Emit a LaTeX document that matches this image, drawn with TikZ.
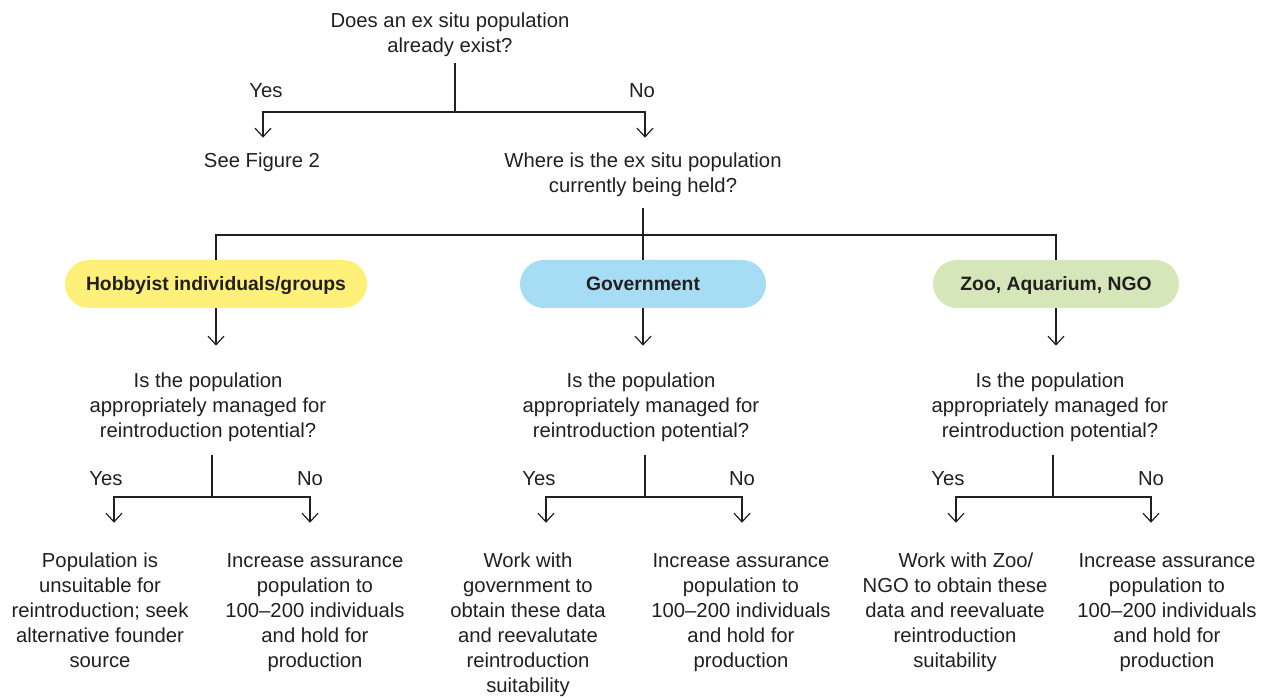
\documentclass[tikz,border=0pt]{standalone}
\usepackage{fontspec}
\setmainfont{Liberation Sans}
\usetikzlibrary{arrows.meta}
\definecolor{ink}{HTML}{231F20}
\definecolor{pillY}{HTML}{FFF07A}
\definecolor{pillB}{HTML}{A6DCF4}
\definecolor{pillG}{HTML}{D5E7B9}
\newcommand{\fsz}{\fontsize{15.2}{18.75}\selectfont}
\newcommand{\ml}[1]{\begin{tabular}[t]{@{}c@{}}#1\end{tabular}}
\begin{document}
\begin{tikzpicture}[x=0.75pt,y=-0.75pt,
  txt/.style={font=\fsz, anchor=base, inner sep=0pt, text=ink},
  pill/.style={font=\fontsize{14.5}{17}\selectfont\bfseries, text=ink, rounded corners=18pt, minimum height=36pt, inner sep=0pt, text height=10.4pt, text depth=0pt},
  ln/.style={draw=ink, line width=0.9pt},
  arr/.style={ln, -{Straight Barb[length=6.5pt,width=12pt]}},
]
\useasboundingbox (0,0) rectangle (1272,698);
% top level
\node[txt] (q0) at (450,28) {\ml{Does an ex situ population\\already exist?}};
\node[txt] (yes0) at (266,98) {Yes};
\node[txt] (no0) at (642,98) {No};
\node[txt] (fig2) at (262,168) {\ml{See Figure 2}};
\node[txt] (q1) at (643,168) {\ml{Where is the ex situ population\\currently being held?}};
% pills
\node[pill, fill=pillY, minimum width=226.5pt] (hob) at (216,284) {Hobbyist individuals/groups};
\node[pill, fill=pillB, minimum width=184.5pt] (gov) at (643,284) {Government};
\node[pill, fill=pillG, minimum width=184.5pt] (zoo) at (1056,284) {Zoo, Aquarium, NGO};
% questions
\node[txt] (hq) at (208,388) {\ml{Is the population\\appropriately managed for\\reintroduction potential?}};
\node[txt] (gq) at (641,388) {\ml{Is the population\\appropriately managed for\\reintroduction potential?}};
\node[txt] (zq) at (1050,388) {\ml{Is the population\\appropriately managed for\\reintroduction potential?}};
% yes/no labels
\node[txt] (hy) at (106,486) {Yes};
\node[txt] (hn) at (310,486) {No};
\node[txt] (gy) at (539,486) {Yes};
\node[txt] (gn) at (742,486) {No};
\node[txt] (zy) at (948,486) {Yes};
\node[txt] (zn) at (1151,486) {No};
% answers
\node[txt] (a1) at (100,568) {\ml{Population is\\unsuitable for\\reintroduction; seek\\alternative founder\\source}};
\node[txt] (a2) at (315,568) {\ml{Increase assurance\\population to\\100–200 individuals\\and hold for\\production}};
\node[txt] (a3) at (528,568) {\ml{Work with\\government to\\obtain these data\\and reevalutate\\reintroduction\\suitability}};
\node[txt] (a4) at (741,568) {\ml{Increase assurance\\population to\\100–200 individuals\\and hold for\\production}};
\node[txt] (a5) at (955,568) {\ml{\hspace*{16.5pt}Work with Zoo/\\NGO to obtain these\\data and reevaluate\\reintroduction\\suitability}};
\node[txt] (a6) at (1167,568) {\ml{Increase assurance\\population to\\100–200 individuals\\and hold for\\production}};
% connectors top
\coordinate (j0) at (455,112);
\draw[ln] (j0 |- q0.south) ++(0,2.5) -- (j0);
\draw[arr, shorten >=9.4pt] (j0) -| ([xshift=0.75pt]fig2.north);
\draw[arr, shorten >=9.4pt] (j0) -| ([xshift=1.5pt]q1.north);
\coordinate (j1) at (643,235);
\draw[ln, shorten <=5.6pt] (q1.south) -- (gov.north);
\draw[ln] (j1) -| (hob.north);
\draw[ln] (j1) -| (zoo.north);
% pills to questions
\draw[arr, shorten >=18.4pt] (hob.south) -- (hob.south |- hq.north);
\draw[arr, shorten >=18.4pt] (gov.south) -- (gov.south |- gq.north);
\draw[arr, shorten >=18.4pt] (zoo.south) -- (zoo.south |- zq.north);
% questions to answers
\coordinate (j2) at (212,497);
\coordinate (j3) at (645,497);
\coordinate (j4) at (1053,497);
\draw[ln] (j2 |- hq.south) ++(0,9.5) -- (j2);
\draw[ln] (j3 |- gq.south) ++(0,9.5) -- (j3);
\draw[ln] (j4 |- zq.south) ++(0,9.5) -- (j4);
\draw[arr, shorten >=20.6pt] (j2) -| ([xshift=10.5pt]a1.north);
\draw[arr, shorten >=20.6pt] (j2) -| ([xshift=-3.75pt]a2.north);
\draw[arr, shorten >=20.6pt] (j3) -| ([xshift=13.5pt]a3.north);
\draw[arr, shorten >=20.6pt] (j3) -| ([xshift=0.75pt]a4.north);
\draw[arr, shorten >=20.6pt] (j4) -| ([xshift=0.75pt]a5.north);
\draw[arr, shorten >=20.6pt] (j4) -| ([xshift=-12pt]a6.north);
\end{tikzpicture}
\end{document}
